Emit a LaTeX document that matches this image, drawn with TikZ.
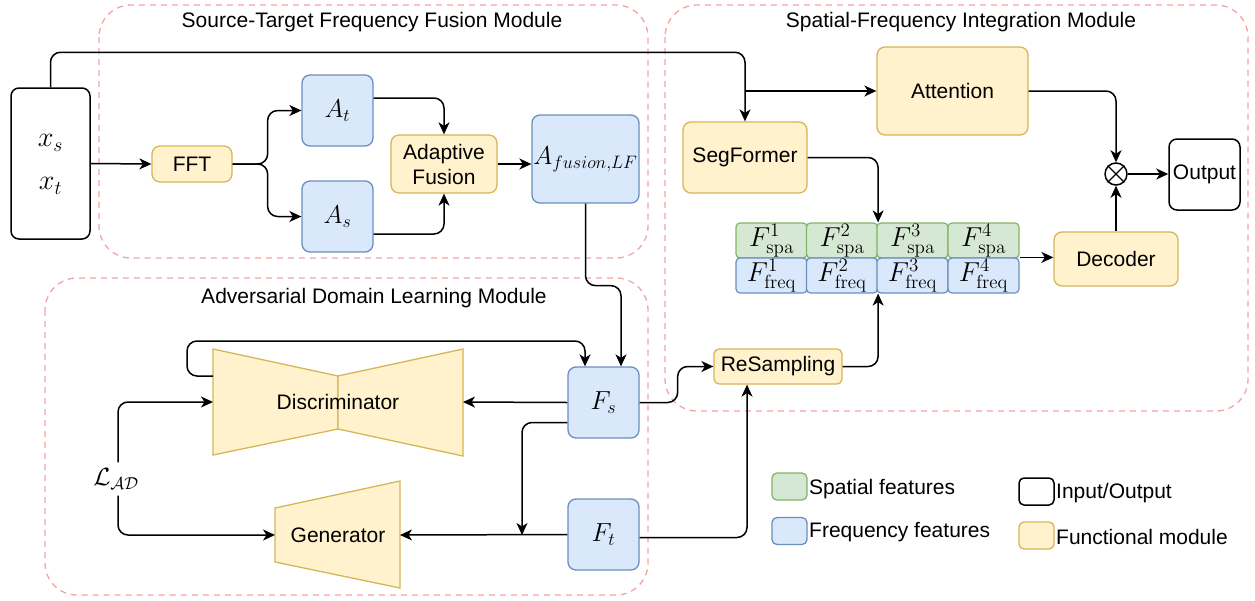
\documentclass[tikz,border=0pt]{standalone}
\usepackage[no-math]{fontspec}
\usepackage{graphicx}
\setmainfont{Liberation Sans}
\usetikzlibrary{arrows.meta,calc}
\definecolor{yelF}{HTML}{FFF2CC}
\definecolor{yelD}{HTML}{D6B656}
\definecolor{bluF}{HTML}{DAE8FC}
\definecolor{bluD}{HTML}{6C8EBF}
\definecolor{grnF}{HTML}{D5E8D4}
\definecolor{grnD}{HTML}{82B366}
\definecolor{modD}{HTML}{F4A3A3}
% math set at 20.74pt and scaled up by #1
\newcommand{\mq}[2]{\scalebox{#1}{\fontsize{20.74}{24}\selectfont$#2$}}
\begin{document}
\begin{tikzpicture}[x=1pt,y=-1pt,
  font=\fontsize{21}{25}\selectfont,
  base/.style={rounded corners=8pt, line width=1.3pt, inner sep=0pt, align=center},
  fmod/.style={base, draw=yelD, fill=yelF},
  freq/.style={base, draw=bluD, fill=bluF},
  spat/.style={base, draw=grnD, fill=grnF},
  io/.style={base, draw=black, line width=1.5pt, fill=white},
  cell/.style={rounded corners=4pt, line width=1.2pt, minimum width=71pt, minimum height=35pt, inner sep=0pt},
  arr/.style={line width=1.5pt, rounded corners=10pt, -{Stealth[length=12pt,width=11pt,inset=3.5pt]}},
  modbox/.style={draw=modD, line width=1.3pt, dash pattern=on 6pt off 5pt, rounded corners=32pt},
  plain/.style={inner sep=0pt},
]
\useasboundingbox (0,0) rectangle (1255,600);

% module frames and titles
\draw[modbox] (99,5) rectangle (648,258);
\draw[modbox] (665,5) rectangle (1248,411);
\draw[modbox] (45,278) rectangle (648,595);
\node[plain] (tA) at (372,22) {Source-Target Frequency Fusion Module};
\node[plain] (tB) at (961,22) {Spatial-Frequency Integration Module};
\node[plain] (tC) at (374,298) {Adversarial Domain Learning Module};

% source-target frequency fusion
\node[io, minimum width=79pt, minimum height=151pt] (inp) at (50.5,163.5) {};
\node[plain] (xs) at (50.5,143) {\mq{1.36}{x_s}};
\node[plain] (xt) at (50.5,186) {\mq{1.36}{x_t}};
\node[fmod, minimum width=80pt, minimum height=36pt] (fft) at (192,164) {FFT};
\node[freq, minimum width=71pt, minimum height=71pt] (at) at (337.5,110.5) {\mq{1.24}{A_t}};
\node[freq, minimum width=71pt, minimum height=71pt] (as) at (337.5,216.5) {\mq{1.24}{A_s}};
\node[fmod, minimum width=106pt, minimum height=58pt] (af) at (444,164) {Adaptive\\Fusion};
\node[freq, minimum width=107pt, minimum height=88pt] (afu) at (585.5,159) {\mq{1.25}{A_{fusion,LF}}};

% spatial-frequency integration
\node[fmod, minimum width=124pt, minimum height=71pt] (seg) at (745,157.5) {SegFormer};
\node[fmod, minimum width=151pt, minimum height=88pt] (att) at (952.5,91) {Attention};
\node[cell, draw=grnD, fill=grnF] (s1) at (771.5,240.5) {\mq{1.32}{F^1_{\mathrm{spa}}}};
\node[cell, draw=grnD, fill=grnF] (s2) at (842,240.5) {\mq{1.32}{F^2_{\mathrm{spa}}}};
\node[cell, draw=grnD, fill=grnF] (s3) at (912.5,240.5) {\mq{1.32}{F^3_{\mathrm{spa}}}};
\node[cell, draw=grnD, fill=grnF] (s4) at (983.5,240.5) {\mq{1.32}{F^4_{\mathrm{spa}}}};
\node[cell, draw=bluD, fill=bluF] (f1) at (771.5,275.5) {\mq{1.32}{F^1_{\mathrm{freq}}}};
\node[cell, draw=bluD, fill=bluF] (f2) at (842,275.5) {\mq{1.32}{F^2_{\mathrm{freq}}}};
\node[cell, draw=bluD, fill=bluF] (f3) at (912.5,275.5) {\mq{1.32}{F^3_{\mathrm{freq}}}};
\node[cell, draw=bluD, fill=bluF] (f4) at (983.5,275.5) {\mq{1.32}{F^4_{\mathrm{freq}}}};
\node[fmod, minimum width=124pt, minimum height=54pt] (dec) at (1116,259) {Decoder};
\node[circle, draw, line width=1.5pt, minimum size=22pt, inner sep=0pt] (ot) at (1116,174) {};
\draw[line width=1.3pt] (ot.45) -- (ot.225) (ot.135) -- (ot.315);
\node[io, minimum width=71pt, minimum height=71pt] (out) at (1204.5,174.5) {Output};
\node[fmod, minimum width=128pt, minimum height=35pt, rounded corners=5pt] (res) at (778,366.5) {ReSampling};

% adversarial domain learning
\node[freq, minimum width=71pt, minimum height=71pt] (fs) at (603.5,402.5) {\mq{1.26}{F_s}};
\node[freq, minimum width=71pt, minimum height=71pt] (ft) at (603.5,534.5) {\mq{1.26}{F_t}};
\draw[line width=1.3pt, draw=yelD, fill=yelF] (213,349) -- (338,376) -- (338,429) -- (213,455) -- cycle;
\draw[line width=1.3pt, draw=yelD, fill=yelF] (463,349) -- (338,376) -- (338,429) -- (463,456) -- cycle;
\node[plain] (disc) at (338,402) {Discriminator};
\draw[line width=1.3pt, draw=yelD, fill=yelF] (275,508) -- (400,481) -- (400,588) -- (275,562) -- cycle;
\node[plain] (gen) at (338,535) {Generator};
\coordinate (dL) at (213,402);
\coordinate (dR) at (463,402);
\coordinate (dl1) at (213,376);
\coordinate (gL) at (275,535);
\coordinate (gR) at (400,535);
\coordinate (fj) at (522,535);
\node[plain, minimum height=33pt] (lad) at (116,479) {\mq{1.2}{\mathcal{L}_{\mathcal{AD}}}};

% connectors
\draw[arr] (inp.east) -- (fft.west);
\draw[arr] (fft.east) -- ++(35,0) |- (at.west);
\draw[arr] (fft.east) -- ++(35,0) |- (as.west);
\draw[arr] ([yshift=12.5pt]at.east) -| (af.north);
\draw[arr] ([yshift=-17.5pt]as.east) -| (af.south);
\draw[arr] (af.east) -- (af.east -| afu.west);
\draw[arr] (afu.south) -- ++(0,82) -| ([xshift=17.5pt]fs.north);
\draw[arr] (inp.north) -- ++(0,-35) -| (seg.north);
\draw[arr] (seg.north |- att.west) -- (att.west);
\draw[arr] (seg.east) -| (s2.north east);
\draw[arr] (res.east) -| (f2.south east);
\draw[arr] (f4.north east) -- (f4.north east -| dec.west);
\draw[arr] (dec.north) -- (ot.south);
\draw[arr] (att.east) -| (ot.north);
\draw[arr] (ot.east) -- (ot.east -| out.west);
\draw[arr] (fs.east) -- ++(38,0) |- (res.west);
\draw[arr] ([yshift=-3pt]ft.east) -| ([xshift=-31pt]res.south);
\draw[arr] (fs.west) -- (dR);
\draw[arr] (dl1) -- ++(-26,0) -- ++(0,-35) -| ([xshift=-18.5pt]fs.north);
\draw[arr] ([yshift=-20pt]fs.west) -| (fj);
\draw[arr] (ft.west) -- (gR);
\draw[arr] ([xshift=2pt]lad.north) |- (dL);
\draw[arr] ([xshift=2pt]lad.south) |- (gL);

% legend
\node[spat, minimum width=35pt, minimum height=27pt, rounded corners=5pt] (lg1) at (789.5,486.5) {};
\node[plain, anchor=west] (lt1) at (809,489) {Spatial features};
\node[freq, minimum width=35pt, minimum height=27pt, rounded corners=5pt] (lg2) at (789.5,531) {};
\node[plain, anchor=west] (lt2) at (809,532) {Frequency features};
\node[io, minimum width=35pt, minimum height=27pt, rounded corners=5pt] (lg3) at (1036.5,491.5) {};
\node[plain, anchor=west] (lt3) at (1056,493) {Input/Output};
\node[fmod, minimum width=35pt, minimum height=27pt, rounded corners=5pt] (lg4) at (1036.5,535.5) {};
\node[plain, anchor=west] (lt4) at (1056,537) {Functional module};
\end{tikzpicture}
\end{document}
